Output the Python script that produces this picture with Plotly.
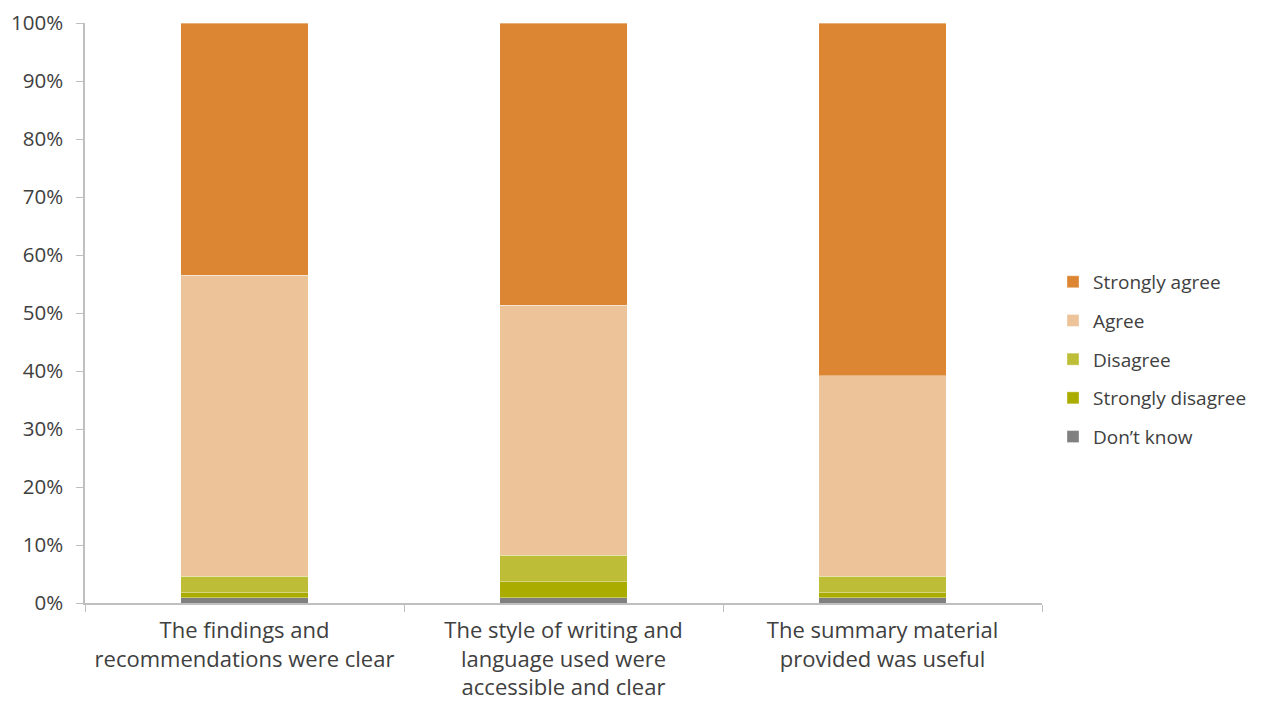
import plotly.graph_objects as go

categories = [
    "The findings and<br>recommendations were clear",
    "The style of writing and<br>language used were<br>accessible and clear",
    "The summary material<br>provided was useful",
]
series_names = ["Don\u2019t know", "Strongly disagree", "Disagree", "Agree", "Strongly agree"]
dont_know = [0.9, 0.9, 0.9]
strongly_disagree = [0.9, 2.75, 0.9]
disagree = [2.8, 4.6, 2.8]
agree = [51.9, 43.1, 34.6]
strongly_agree = [43.5, 48.65, 60.8]
series_values = [dont_know, strongly_disagree, disagree, agree, strongly_agree]
colors = ["#808080", "#AAAD00", "#BDBD38", "#EDC399", "#DC8633"]
y_ticks = [0, 10, 20, 30, 40, 50, 60, 70, 80, 90, 100]
y_tick_labels = [f"{v}%" for v in y_ticks]

fig = go.Figure()
for i, (name, vals, col) in enumerate(zip(series_names, series_values, colors)):
    fig.add_trace(go.Bar(
        x=categories, y=vals, name=name, legendgroup=name,
        legendrank=len(series_names) - i,
        marker=dict(color=col, line=dict(color="rgba(255,255,255,0.6)", width=0.6)),
    ))

font_family = "'Open Sans', Lato, sans-serif"
fig.update_layout(
    barmode="stack",
    bargap=0.6,
    width=1264, height=705,
    margin=dict(l=77, r=230, t=15, b=110),
    plot_bgcolor="white", paper_bgcolor="white",
    font=dict(family=font_family, color="#404040", size=21),
    legend=dict(
        traceorder="grouped",
        tracegroupgap=11,
        x=1.0115, xanchor="left", y=0.42, yanchor="middle",
        font=dict(size=19, color="#404040"),
        itemwidth=30,
    ),
    showlegend=True,
)
fig.update_xaxes(
    type="category", tickson="boundaries", ticks="outside", ticklen=7,
    tickcolor="#BFBFBF", showline=True, linecolor="#BFBFBF", linewidth=1.5,
    tickfont=dict(size=22, color="#404040"), showgrid=False, automargin=False,
    ticklabelstandoff=7, ticklabeloverflow="allow",
)
fig.update_yaxes(
    range=[0, 100], tickvals=y_ticks, ticktext=y_tick_labels,
    ticks="outside", ticklen=7, tickcolor="#BFBFBF", showline=True,
    linecolor="#BFBFBF", linewidth=1.5, showgrid=False, zeroline=False,
    tickfont=dict(size=20.5, color="#404040"), automargin=False,
    ticklabelstandoff=9, ticklabeloverflow="allow",
)
fig.write_html("out.html")
